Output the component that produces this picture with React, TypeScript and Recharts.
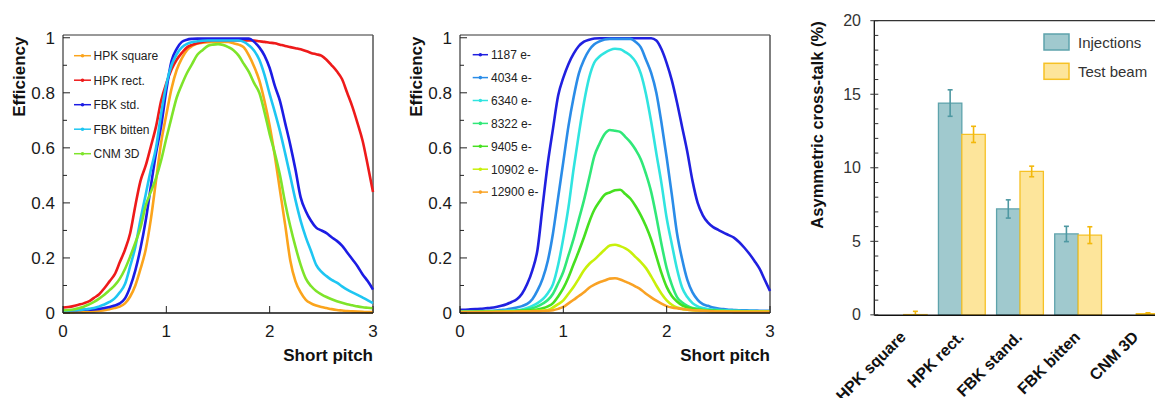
import { LineChart, Line, XAxis, YAxis, BarChart, Bar, ErrorBar, ReferenceLine } from "recharts";

// short pitch positions (common to both efficiency panels)
const pitch = [
  0, 0.05, 0.1, 0.15, 0.2, 0.25, 0.3, 0.35, 0.4, 0.45,
  0.5, 0.55, 0.6, 0.65, 0.7, 0.75, 0.8, 0.85, 0.9, 0.95,
  1, 1.05, 1.1, 1.15, 1.2, 1.25, 1.3, 1.35, 1.4, 1.45,
  1.5, 1.55, 1.6, 1.65, 1.7, 1.75, 1.8, 1.85, 1.9, 1.95,
  2, 2.05, 2.1, 2.15, 2.2, 2.25, 2.3, 2.35, 2.4, 2.45,
  2.5, 2.55, 2.6, 2.65, 2.7, 2.75, 2.8, 2.85, 2.9, 2.95,
  3,
];

// left panel: sensor types
const hpkSquare = [
  0.003, 0.003, 0.003, 0.004, 0.004, 0.005, 0.006, 0.008, 0.01, 0.014,
  0.018, 0.023, 0.035, 0.06, 0.1, 0.16, 0.23, 0.34, 0.48, 0.62,
  0.72, 0.815, 0.883, 0.925, 0.955, 0.97, 0.979, 0.982, 0.984, 0.985,
  0.985, 0.985, 0.985, 0.98, 0.975, 0.965, 0.935, 0.895, 0.845, 0.77,
  0.68, 0.57, 0.445, 0.32, 0.19, 0.115, 0.075, 0.048, 0.035, 0.027,
  0.022, 0.018, 0.014, 0.011, 0.009, 0.007, 0.006, 0.005, 0.004, 0.003,
  0.003,
];
const hpkRect = [
  0.02, 0.022, 0.025, 0.03, 0.035, 0.042, 0.055, 0.068, 0.09, 0.115,
  0.14, 0.185, 0.23, 0.29, 0.39, 0.48, 0.535, 0.605, 0.677, 0.772,
  0.835, 0.885, 0.92, 0.945, 0.965, 0.974, 0.98, 0.985, 0.988, 0.99,
  0.99, 0.99, 0.99, 0.99, 0.99, 0.99, 0.99, 0.99, 0.987, 0.985,
  0.982, 0.98, 0.975, 0.97, 0.966, 0.962, 0.958, 0.952, 0.945, 0.94,
  0.935, 0.92, 0.9, 0.878, 0.85, 0.8, 0.75, 0.69, 0.625, 0.535,
  0.44,
];
const fbkStd = [
  0.01, 0.01, 0.01, 0.011, 0.012, 0.012, 0.013, 0.015, 0.018, 0.022,
  0.027, 0.035, 0.053, 0.095, 0.155, 0.235, 0.335, 0.46, 0.58, 0.68,
  0.81, 0.915, 0.96, 0.985, 0.993, 0.996, 0.997, 0.997, 0.997, 0.997,
  0.997, 0.997, 0.997, 0.997, 0.997, 0.997, 0.997, 0.985, 0.965, 0.935,
  0.89, 0.825, 0.77, 0.69, 0.61, 0.52, 0.42, 0.37, 0.335, 0.31,
  0.3, 0.29, 0.275, 0.262, 0.245, 0.22, 0.195, 0.17, 0.14, 0.115,
  0.085,
];
const fbkBitten = [
  0.008, 0.009, 0.01, 0.011, 0.013, 0.015, 0.018, 0.024, 0.031, 0.04,
  0.053, 0.075, 0.105, 0.17, 0.24, 0.34, 0.43, 0.52, 0.6, 0.725,
  0.83, 0.9, 0.94, 0.965, 0.978, 0.984, 0.987, 0.989, 0.99, 0.99,
  0.99, 0.99, 0.99, 0.99, 0.99, 0.985, 0.972, 0.953, 0.92, 0.865,
  0.795, 0.73, 0.66, 0.58, 0.496, 0.41, 0.335, 0.275, 0.225, 0.175,
  0.15, 0.134, 0.12, 0.11, 0.097, 0.085, 0.075, 0.066, 0.056, 0.046,
  0.036,
];
const cnm3d = [
  0.01, 0.011, 0.013, 0.017, 0.023, 0.031, 0.04, 0.052, 0.066, 0.083,
  0.1, 0.125, 0.16, 0.205, 0.255, 0.31, 0.39, 0.44, 0.49, 0.555,
  0.635, 0.71, 0.782, 0.83, 0.872, 0.905, 0.938, 0.955, 0.97, 0.975,
  0.977, 0.974, 0.966, 0.955, 0.935, 0.905, 0.875, 0.835, 0.8, 0.73,
  0.65, 0.58, 0.5, 0.4, 0.314, 0.24, 0.175, 0.125, 0.098, 0.08,
  0.068, 0.058, 0.05, 0.043, 0.037, 0.032, 0.028, 0.024, 0.021, 0.019,
  0.017,
];

// middle panel: thresholds
const e1187 = [
  0.012, 0.012, 0.013, 0.014, 0.015, 0.017, 0.019, 0.022, 0.026, 0.032,
  0.04, 0.05, 0.07, 0.105, 0.155, 0.23, 0.39, 0.545, 0.67, 0.79,
  0.855, 0.905, 0.942, 0.97, 0.986, 0.993, 0.997, 0.998, 0.998, 0.998,
  0.998, 0.998, 0.998, 0.998, 0.998, 0.998, 0.998, 0.998, 0.99, 0.958,
  0.908, 0.845, 0.765, 0.675, 0.585, 0.48, 0.4, 0.355, 0.328, 0.312,
  0.302, 0.292, 0.283, 0.274, 0.258, 0.238, 0.215, 0.189, 0.16, 0.12,
  0.08,
];
const e4034 = [
  0.006, 0.006, 0.006, 0.006, 0.007, 0.007, 0.008, 0.009, 0.011, 0.013,
  0.016, 0.02, 0.025, 0.033, 0.05, 0.082, 0.125, 0.19, 0.29, 0.42,
  0.55, 0.68, 0.785, 0.87, 0.92, 0.955, 0.976, 0.987, 0.994, 0.996,
  0.996, 0.996, 0.996, 0.996, 0.985, 0.965, 0.92, 0.872, 0.8, 0.69,
  0.565, 0.43, 0.29, 0.195, 0.12, 0.075, 0.048, 0.032, 0.026, 0.02,
  0.016, 0.014, 0.012, 0.011, 0.01, 0.01, 0.009, 0.009, 0.008, 0.008,
  0.008,
];
const e6340 = [
  0.005, 0.005, 0.005, 0.005, 0.006, 0.006, 0.006, 0.007, 0.007, 0.008,
  0.009, 0.01, 0.013, 0.018, 0.026, 0.036, 0.05, 0.072, 0.105, 0.175,
  0.272, 0.385, 0.525, 0.65, 0.765, 0.855, 0.91, 0.932, 0.945, 0.955,
  0.96, 0.958, 0.948, 0.935, 0.912, 0.87, 0.795, 0.695, 0.58, 0.47,
  0.345, 0.25, 0.16, 0.092, 0.058, 0.036, 0.024, 0.018, 0.014, 0.012,
  0.011, 0.01, 0.009, 0.008, 0.008, 0.007, 0.007, 0.007, 0.006, 0.006,
  0.006,
];
const e8322 = [
  0.004, 0.004, 0.004, 0.004, 0.005, 0.005, 0.005, 0.005, 0.006, 0.006,
  0.007, 0.008, 0.01, 0.013, 0.017, 0.024, 0.034, 0.047, 0.07, 0.108,
  0.15, 0.21, 0.27, 0.34, 0.41, 0.49, 0.57, 0.615, 0.65, 0.665,
  0.662, 0.658, 0.64, 0.62, 0.593, 0.558, 0.505, 0.44, 0.35, 0.25,
  0.163, 0.102, 0.058, 0.038, 0.026, 0.018, 0.015, 0.012, 0.01, 0.009,
  0.008, 0.008, 0.007, 0.007, 0.007, 0.006, 0.006, 0.006, 0.006, 0.006,
  0.006,
];
const e9405 = [
  0.003, 0.003, 0.003, 0.004, 0.004, 0.004, 0.004, 0.005, 0.005, 0.005,
  0.006, 0.007, 0.008, 0.009, 0.01, 0.013, 0.017, 0.024, 0.036, 0.06,
  0.09, 0.13, 0.178, 0.225, 0.275, 0.33, 0.375, 0.405, 0.43, 0.438,
  0.446, 0.448, 0.432, 0.415, 0.388, 0.355, 0.315, 0.267, 0.206, 0.145,
  0.095, 0.062, 0.042, 0.028, 0.02, 0.015, 0.012, 0.01, 0.009, 0.008,
  0.007, 0.007, 0.006, 0.006, 0.006, 0.005, 0.005, 0.005, 0.005, 0.005,
  0.005,
];
const e10902 = [
  0.003, 0.003, 0.003, 0.003, 0.003, 0.004, 0.004, 0.004, 0.004, 0.005,
  0.005, 0.005, 0.006, 0.006, 0.007, 0.008, 0.009, 0.011, 0.02, 0.032,
  0.046, 0.07, 0.095, 0.125, 0.155, 0.178, 0.194, 0.212, 0.23, 0.245,
  0.248, 0.243, 0.235, 0.222, 0.203, 0.185, 0.163, 0.133, 0.1, 0.07,
  0.046, 0.03, 0.02, 0.015, 0.012, 0.01, 0.009, 0.008, 0.007, 0.006,
  0.006, 0.006, 0.005, 0.005, 0.005, 0.005, 0.005, 0.005, 0.005, 0.005,
  0.005,
];
const e12900 = [
  0.003, 0.003, 0.003, 0.003, 0.003, 0.003, 0.003, 0.004, 0.004, 0.004,
  0.004, 0.005, 0.005, 0.005, 0.006, 0.006, 0.007, 0.008, 0.01, 0.015,
  0.022, 0.035, 0.048, 0.062, 0.075, 0.092, 0.103, 0.112, 0.118, 0.125,
  0.126, 0.122, 0.114, 0.106, 0.096, 0.085, 0.07, 0.057, 0.045, 0.034,
  0.025, 0.02, 0.017, 0.015, 0.012, 0.01, 0.009, 0.008, 0.007, 0.006,
  0.005, 0.005, 0.005, 0.004, 0.004, 0.004, 0.004, 0.004, 0.004, 0.004,
  0.004,
];

const effTicks = [0, 0.1, 0.2, 0.3, 0.4, 0.5, 0.6, 0.7, 0.8, 0.9, 1];
const pitchTicks = [0, 1, 2, 3];

// right panel: asymmetric cross-talk (%)
const devices = ["HPK square", "HPK rect.", "FBK stand.", "FBK bitten", "CNM 3D"];
const injections = [0, 14.4, 7.2, 5.5, 0];
const injectionsErr = [0.03, 0.9, 0.62, 0.52, 0.03];
const testBeam = [0.02, 12.27, 9.75, 5.42, 0.09];
const testBeamErrLow = [0.02, 0.55, 0.36, 0.57, 0.05];
const testBeamErrHigh = [0.22, 0.55, 0.36, 0.57, 0.05];
const crossTalkTicks = [0, 1, 2, 3, 4, 5, 6, 7, 8, 9, 10, 11, 12, 13, 14, 15, 16, 17, 18, 19, 20];

const FONT = '"Liberation Sans", Arial, sans-serif';

const sensorSeries = [
  { key: "hpkSquare", name: "HPK square", color: "#fba41c", values: hpkSquare },
  { key: "hpkRect", name: "HPK rect.", color: "#ee1a1a", values: hpkRect },
  { key: "fbkStd", name: "FBK std.", color: "#1c1ce4", values: fbkStd },
  { key: "fbkBitten", name: "FBK bitten", color: "#1ec6f2", values: fbkBitten },
  { key: "cnm3d", name: "CNM 3D", color: "#7ee42a", values: cnm3d },
];

const thresholdSeries = [
  { key: "e1187", name: "1187 e-", color: "#2020e0", values: e1187 },
  { key: "e4034", name: "4034 e-", color: "#2a8ce8", values: e4034 },
  { key: "e6340", name: "6340 e-", color: "#30e4e0", values: e6340 },
  { key: "e8322", name: "8322 e-", color: "#30e878", values: e8322 },
  { key: "e9405", name: "9405 e-", color: "#46e020", values: e9405 },
  { key: "e10902", name: "10902 e-", color: "#c8f00a", values: e10902 },
  { key: "e12900", name: "12900 e-", color: "#f9a224", values: e12900 },
];

type Series = { key: string; name: string; color: string; values: number[] };

const toRows = (series: Series[]) =>
  pitch.map((x, i) => {
    const row: Record<string, number> = { x };
    series.forEach((s) => (row[s.key] = s.values[i]));
    return row;
  });

const PLOT_LEFT = 63;
const PLOT_RIGHT = 373;
const PLOT_BOTTOM = 313;

const fmt = (v: number) => String(Number(v.toFixed(1)));

const EffYTick = (props: any) => {
  const { y, payload } = props;
  const major = Math.round(payload.value * 10) % 2 === 0;
  return (
    <g>
      <line x1={PLOT_LEFT} x2={PLOT_LEFT + (major ? 7 : 4)} y1={y} y2={y} stroke="#222" />
      {major && (
        <text x={55} y={y} dy={6} textAnchor="end" fontSize={17} fontFamily={FONT} fill="#1a1a1a">
          {fmt(payload.value)}
        </text>
      )}
    </g>
  );
};

const PitchTick = (props: any) => {
  const { x, payload } = props;
  return (
    <g>
      <line x1={x} x2={x} y1={PLOT_BOTTOM} y2={PLOT_BOTTOM - 7} stroke="#222" />
      <text x={x} y={337} textAnchor="middle" fontSize={17} fontFamily={FONT} fill="#1a1a1a">
        {payload.value}
      </text>
    </g>
  );
};

function EfficiencyPanel({ series, left, legendTop, legendStep, legendLine, legendText }: {
  series: Series[]; left: number; legendTop: number; legendStep: number; legendLine: [number, number]; legendText: number;
}) {
  const rows = toRows(series);
  return (
    <div style={{ position: "absolute", left, top: 0, width: 390, height: 398 }}>
      <LineChart width={390} height={398} data={rows} margin={{ top: 35, right: 17, bottom: 0, left: 0 }}>
        <XAxis
          dataKey="x"
          type="number"
          domain={[0, 3]}
          ticks={pitchTicks}
          interval={0}
          height={85}
          tickLine={false}
          axisLine={{ stroke: "#111", strokeWidth: 1.5 }}
          tick={PitchTick}
        />
        <YAxis
          type="number"
          domain={[0, 1.01]}
          ticks={effTicks}
          interval={0}
          width={63}
          tickLine={false}
          axisLine={{ stroke: "#111" }}
          tick={EffYTick}
        />
        <ReferenceLine y={1.01} stroke="#333" strokeWidth={1} />
        <ReferenceLine x={3} stroke="#555" strokeWidth={1.5} />
        {series.map((s) => (
          <Line
            key={s.key}
            dataKey={s.key}
            name={s.name}
            type="monotone"
            stroke={s.color}
            strokeWidth={2.6}
            dot={false}
            isAnimationActive={false}
          />
        ))}
      </LineChart>
      <svg width={390} height={398} style={{ position: "absolute", left: 0, top: 0, pointerEvents: "none" }}>
        {series.map((s, i) => {
          const cy = legendTop + i * legendStep;
          return (
            <g key={s.key}>
              <line x1={legendLine[0]} x2={legendLine[1]} y1={cy} y2={cy} stroke={s.color} strokeWidth={1.5} />
              <circle cx={(legendLine[0] + legendLine[1]) / 2} cy={cy} r={1.8} fill={s.color} />
              <text x={legendText} y={cy} dy={4.3} fontSize={12} fontFamily={FONT} fill="#222">
                {s.name}
              </text>
            </g>
          );
        })}
        <text
          transform="translate(18.5,76.7) rotate(-90)"
          textAnchor="middle"
          dy={6}
          fontSize={17}
          fontWeight="bold"
          fontFamily={FONT}
          fill="#111"
        >
          Efficiency
        </text>
        <text x={PLOT_RIGHT} y={361} textAnchor="end" fontSize={17} fontWeight="bold" fontFamily={FONT} fill="#111">
          Short pitch
        </text>
      </svg>
    </div>
  );
}

const BAR_AXIS = 74.3;

const CrossTalkTick = (props: any) => {
  const { y, payload } = props;
  const v = payload.value;
  const major = v % 5 === 0;
  return (
    <g>
      <line x1={major ? BAR_AXIS - 4 : BAR_AXIS} x2={BAR_AXIS + 4} y1={y} y2={y} stroke="#333" />
      {major && (
        <text x={61} y={y} dy={5.5} textAnchor="end" fontSize={16} fontFamily={FONT} fill="#333">
          {v}
        </text>
      )}
    </g>
  );
};

const DeviceTick = (props: any) => {
  const { x, payload } = props;
  const ax = x + 3.5;
  const ay = 338;
  return (
    <text
      x={ax}
      y={ay}
      transform={`rotate(-45 ${ax} ${ay})`}
      textAnchor="end"
      fontSize={16}
      fontWeight="bold"
      fontFamily={FONT}
      fill="#111"
    >
      {payload.value}
    </text>
  );
};

function CrossTalkPanel() {
  const rows = devices.map((name, i) => ({
    name,
    injections: injections[i],
    injectionsErr: injectionsErr[i],
    testBeam: testBeam[i],
    testBeamErr: [testBeamErrLow[i], testBeamErrHigh[i]],
  }));
  return (
    <div style={{ position: "absolute", left: 800, top: 0, width: 365, height: 398 }}>
      <BarChart
        width={365}
        height={398}
        data={rows}
        margin={{ top: 20.7, right: 0, bottom: 0, left: 0 }}
        barGap={0}
        barSize={23.4}
      >
        <XAxis
          dataKey="name"
          height={82.7}
          interval={0}
          tickLine={false}
          axisLine={{ stroke: "#111", strokeWidth: 1.6 }}
          tick={DeviceTick}
        />
        <YAxis
          type="number"
          domain={[0, 20]}
          ticks={crossTalkTicks}
          interval={0}
          width={BAR_AXIS}
          tickLine={false}
          axisLine={{ stroke: "#111", strokeWidth: 1.3 }}
          tick={CrossTalkTick}
        />
        <ReferenceLine y={20} stroke="#333" strokeWidth={1.2} />
        <Bar dataKey="injections" name="Injections" fill="#a0c9ce" stroke="#5ea3ac" strokeWidth={1.3} isAnimationActive={false}>
          <ErrorBar dataKey="injectionsErr" direction="y" width={2.5} stroke="#4e98a2" strokeWidth={1.6} />
        </Bar>
        <Bar dataKey="testBeam" name="Test beam" fill="#fde59b" stroke="#f6c125" strokeWidth={1.3} isAnimationActive={false}>
          <ErrorBar dataKey="testBeamErr" direction="y" width={2.5} stroke="#f3b80c" strokeWidth={1.6} />
        </Bar>
      </BarChart>
      <svg width={365} height={398} style={{ position: "absolute", left: 0, top: 0, pointerEvents: "none" }}>
        <rect x={244} y={34} width={25} height={16} fill="#a0c9ce" stroke="#5ea3ac" strokeWidth={1.5} />
        <text x={278} y={47.5} fontSize={15} fontFamily={FONT} fill="#333">
          Injections
        </text>
        <rect x={244} y={63.3} width={25} height={16} fill="#fde59b" stroke="#f6c125" strokeWidth={1.5} />
        <text x={278} y={76.8} fontSize={15} fontFamily={FONT} fill="#333">
          Test beam
        </text>
        <text
          transform="translate(16.7,125) rotate(-90)"
          textAnchor="middle"
          dy={6}
          fontSize={16.5}
          fontWeight="bold"
          fontFamily={FONT}
          fill="#111"
        >
          Asymmetric cross-talk (%)
        </text>
      </svg>
    </div>
  );
}

export default function App() {
  return (
    <div
      style={{
        position: "absolute",
        left: 0,
        top: 0,
        width: 1155,
        height: 398,
        overflow: "hidden",
        background: "#fff",
        fontFamily: FONT,
      }}
    >
      <EfficiencyPanel
        series={sensorSeries}
        left={0}
        legendTop={55.7}
        legendStep={24.5}
        legendLine={[74, 91]}
        legendText={93.5}
      />
      <EfficiencyPanel
        series={thresholdSeries}
        left={397}
        legendTop={54.7}
        legendStep={22.9}
        legendLine={[75.7, 91]}
        legendText={94}
      />
      <CrossTalkPanel />
    </div>
  );
}
